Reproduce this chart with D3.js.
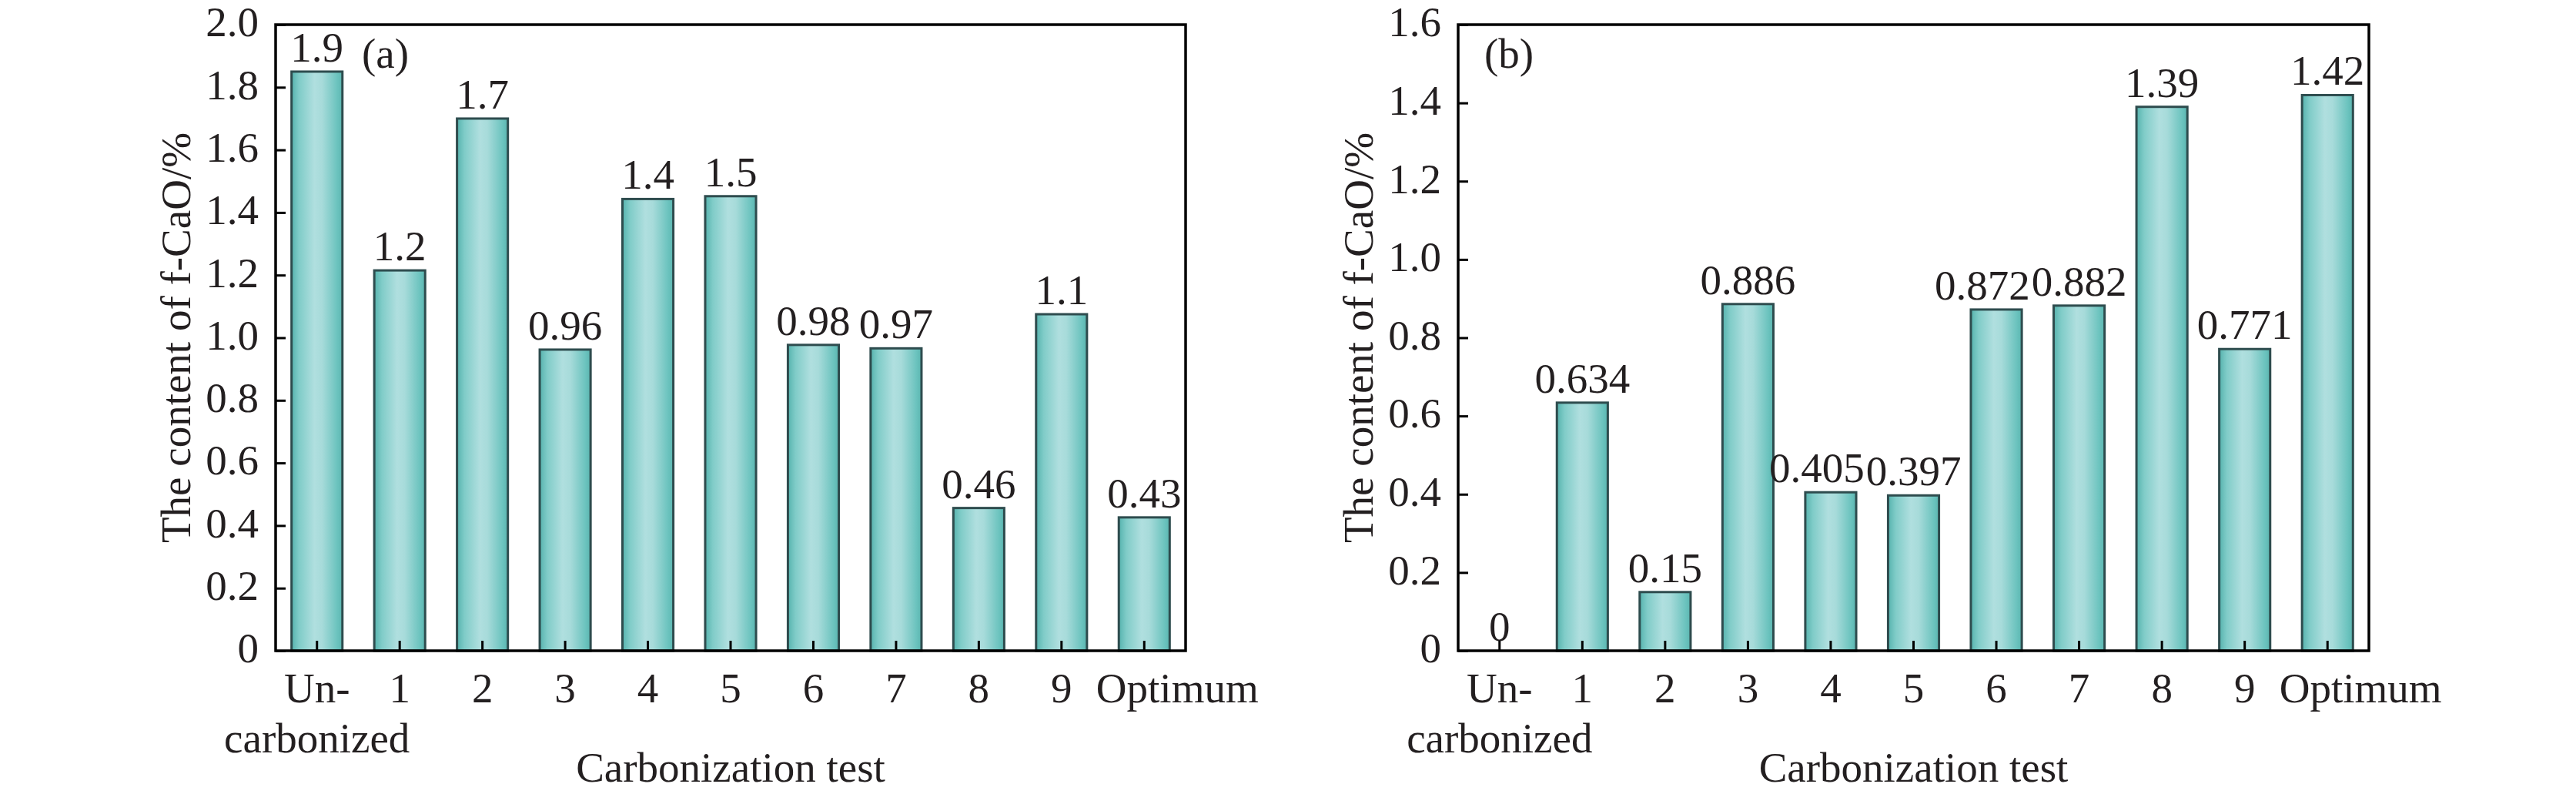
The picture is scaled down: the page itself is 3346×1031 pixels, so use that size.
<!DOCTYPE html>
<html>
<head>
<meta charset="utf-8">
<script src="https://cdn.jsdelivr.net/npm/d3@7"></script>
<style>
    body { margin: 0; background: #fff; }
    svg text { font-family: "Liberation Serif", "Times New Roman", serif; fill: #231f20; }
</style>
</head>
<body>
<svg id="chart" width="3346" height="1031"></svg>
<script>
const categories = ["Un-carbonized", "1", "2", "3", "4", "5", "6", "7", "8", "9", "Optimum"];

// panel (a)
const valuesA = [1.85, 1.215, 1.70, 0.962, 1.443, 1.452, 0.977, 0.966, 0.456, 1.075, 0.426];
const labelsA = ["1.9", "1.2", "1.7", "0.96", "1.4", "1.5", "0.98", "0.97", "0.46", "1.1", "0.43"];
const ticksA = [0, 0.2, 0.4, 0.6, 0.8, 1.0, 1.2, 1.4, 1.6, 1.8, 2.0];

// panel (b)
const valuesB = [0, 0.634, 0.15, 0.886, 0.405, 0.397, 0.872, 0.882, 1.39, 0.771, 1.42];
const labelsB = ["0", "0.634", "0.15", "0.886", "0.405", "0.397", "0.872", "0.882", "1.39", "0.771", "1.42"];
const ticksB = [0, 0.2, 0.4, 0.6, 0.8, 1.0, 1.2, 1.4, 1.6];

const yTitle = "The content of f-CaO/%";
const xTitle = "Carbonization test";
const fontSize = 55;

const svg = d3.select("#chart");

const defs = svg.append("defs");
const grad = defs.append("linearGradient")
    .attr("id", "barFill")
    .attr("x1", "0%").attr("x2", "100%")
    .attr("y1", "0%").attr("y2", "0%");
[["0%", "#56b3ae"], ["15%", "#80ccc8"], ["45%", "#b0dfdf"], ["60%", "#a7dbda"], ["90%", "#6bc3be"], ["100%", "#5bb5b0"]]
    .forEach(s => grad.append("stop").attr("offset", s[0]).attr("stop-color", s[1]));

function createAxis(g, area, ticks) {
    const scaleX = d3.scaleBand()
        .domain(categories)
        .range([area.x0, area.x1])
        .paddingInner(0.385)
        .paddingOuter(0.1925);

    const scaleY = d3.scaleLinear()
        .domain([0, ticks[ticks.length - 1]])
        .range([area.y1, area.y0]);

    const axisY = d3.axisLeft(scaleY)
        .tickValues(ticks)
        .tickSizeInner(-13)
        .tickSizeOuter(0)
        .tickPadding(22)
        .tickFormat(d => d === 0 ? "0" : d.toFixed(1));

    const gy = g.append("g")
        .attr("transform", `translate(${area.x0}, 0)`)
        .call(axisY);
    gy.select(".domain").remove();
    gy.selectAll("line").attr("stroke", "#000").attr("stroke-width", 3);
    gy.selectAll("text")
        .attr("font-size", fontSize)
        .attr("font-family", "Liberation Serif")
        .attr("dy", "0.27em");

    const axisX = d3.axisBottom(scaleX)
        .tickSizeInner(-13)
        .tickSizeOuter(0)
        .tickPadding(28);

    const gx = g.append("g")
        .attr("transform", `translate(0, ${area.y1})`)
        .call(axisX);
    gx.select(".domain").remove();
    gx.selectAll("line")
        .attr("stroke", "#000")
        .attr("stroke-width", 3);
    gx.selectAll("text")
        .attr("font-size", fontSize)
        .attr("font-family", "Liberation Serif")
        .each(function (d) {
            const t = d3.select(this);
            if (d === "Un-carbonized") {
                t.text(null);
                t.append("tspan").attr("x", 0).text("Un-");
                t.append("tspan").attr("x", 0).attr("dy", "1.18em").text("carbonized");
            } else if (d === "Optimum") {
                t.attr("dx", 43);
            }
        });

    // frame
    g.append("rect")
        .attr("x", area.x0)
        .attr("y", area.y0)
        .attr("width", area.x1 - area.x0)
        .attr("height", area.y1 - area.y0)
        .attr("fill", "none")
        .attr("stroke", "#000")
        .attr("stroke-width", 3.5);

    return [scaleX, scaleY];
}

function createBarChart(g, values, labels, scaleX, scaleY) {
    const data = categories.map((c, i) => ({ cat: c, value: values[i], label: labels[i] }));

    g.insert("g", ":first-child")
        .selectAll("rect")
        .data(data.filter(d => d.value > 0))
        .enter()
        .append("rect")
        .attr("x", d => scaleX(d.cat))
        .attr("y", d => scaleY(d.value))
        .attr("width", scaleX.bandwidth())
        .attr("height", d => scaleY(0) - scaleY(d.value))
        .attr("fill", "url(#barFill)")
        .attr("stroke", "#2e4c4e")
        .attr("stroke-width", 3);

    const txt = g.append("g")
        .selectAll("text")
        .data(data)
        .enter()
        .append("text")
        .attr("x", d => scaleX(d.cat) + scaleX.bandwidth() / 2)
        .attr("y", d => scaleY(d.value) - 13)
        .attr("text-anchor", "middle")
        .attr("font-size", fontSize)
        .text(d => d.label);

    // nudge a label left when it runs into its right neighbour
    const nodes = txt.nodes();
    for (let i = nodes.length - 2; i >= 0; i--) {
        const a = nodes[i].getBBox();
        const b = nodes[i + 1].getBBox();
        const sameRow = Math.abs(a.y - b.y) < a.height * 0.8;
        const overlap = a.x + a.width - b.x;
        if (sameRow && overlap > -2) {
            nodes[i].setAttribute("dx", -(overlap + 2));
        }
    }
}

function drawPanel(area, values, labels, ticks, tag, tagX) {
    const g = svg.append("g");
    const [scX, scY] = createAxis(g, area, ticks);
    createBarChart(g, values, labels, scX, scY);

    g.append("text")
        .attr("x", area.x0 + tagX)
        .attr("y", 88)
        .attr("font-size", fontSize)
        .text(tag);

    g.append("text")
        .attr("transform", `translate(${area.x0 - 111}, ${(area.y0 + area.y1) / 2}) rotate(-90)`)
        .attr("text-anchor", "middle")
        .attr("font-size", fontSize)
        .text(yTitle);

    g.append("text")
        .attr("x", (area.x0 + area.x1) / 2)
        .attr("y", 1015)
        .attr("text-anchor", "middle")
        .attr("font-size", fontSize)
        .text(xTitle);
}

drawPanel({ x0: 358, x1: 1540, y0: 32, y1: 845 }, valuesA, labelsA, ticksA, "(a)", 112);
drawPanel({ x0: 1894, x1: 3077, y0: 32, y1: 845 }, valuesB, labelsB, ticksB, "(b)", 34);
</script>
</body>
</html>
